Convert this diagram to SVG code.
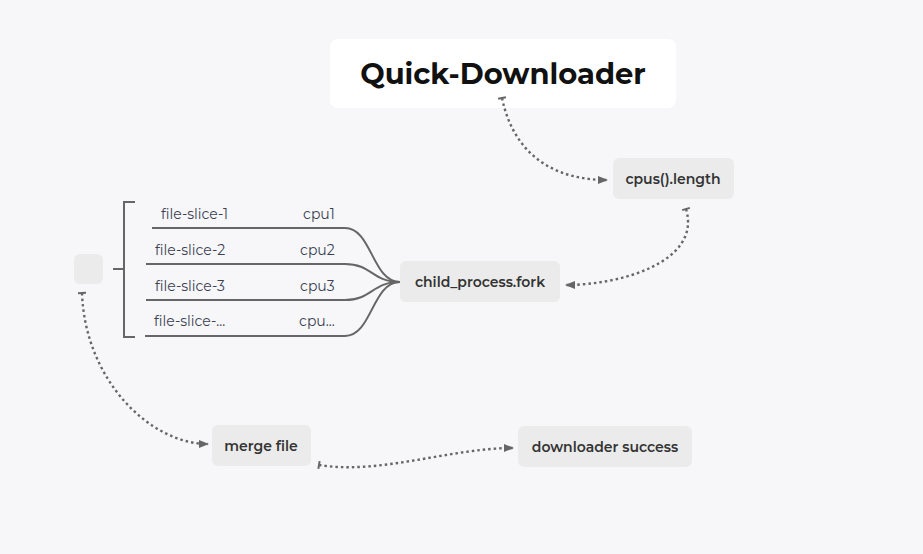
<svg xmlns="http://www.w3.org/2000/svg" width="923" height="554" viewBox="0 0 923 554">
<defs>
<marker id="arr" viewBox="0 0 10 10" refX="9" refY="5" markerWidth="10" markerHeight="10" markerUnits="userSpaceOnUse" orient="auto"><path d="M0,1 L10,5 L0,9 Z" fill="#666"/></marker>
<marker id="tick" viewBox="-5 -5 10 10" refX="0" refY="0" markerWidth="10" markerHeight="10" markerUnits="userSpaceOnUse" orient="auto"><path d="M0,-4 L0,4" stroke="#666" stroke-width="2"/></marker>
<style>
.box{fill:#ebebeb}
.lbl{font-family:Montserrat,"Open Sans","Liberation Sans",sans-serif;font-weight:600;font-size:14px;fill:#333;text-anchor:middle}
.sub{font-family:Montserrat,"Open Sans","Liberation Sans",sans-serif;font-size:14px;fill:#3a3f52}
.dot{fill:none;stroke:#666;stroke-width:2.4;stroke-dasharray:2.5 3;marker-end:url(#arr);marker-start:url(#tick)}
.br{fill:none;stroke:#666;stroke-width:2}
</style>
</defs>
<rect width="923" height="554" fill="#f7f7f9"/>
<g id="title"><rect x="330" y="39" width="346" height="69" rx="8" fill="#fff"/><text x="503" y="84" font-family="Montserrat,'Open Sans','Liberation Sans',sans-serif" font-weight="bold" font-size="29" fill="#111" text-anchor="middle">Quick-Downloader</text></g>
<g id="cpus"><rect class="box" x="613" y="158" width="121" height="41" rx="6"/><text class="lbl" x="673" y="184">cpus().length</text></g>
<g id="fork"><rect class="box" x="400" y="261" width="160" height="41" rx="6"/><text class="lbl" x="480" y="287">child_process.fork</text></g>
<g id="empty"><rect class="box" x="74" y="254" width="29" height="30" rx="6"/></g>
<g id="merge"><rect class="box" x="212" y="425" width="99" height="41" rx="6"/><text class="lbl" x="261" y="451">merge file</text></g>
<g id="success"><rect class="box" x="518" y="426" width="174" height="41" rx="6"/><text class="lbl" x="605" y="452">downloader success</text></g>
<g id="slices">
<text class="sub" x="161" y="219">file-slice-1</text><text class="sub" x="303" y="219">cpu1</text>
<text class="sub" x="155" y="255">file-slice-2</text><text class="sub" x="300" y="255">cpu2</text>
<text class="sub" x="155" y="291">file-slice-3</text><text class="sub" x="300" y="291">cpu3</text>
<text class="sub" x="154" y="326">file-slice-...</text><text class="sub" x="299" y="326">cpu...</text>
</g>
<g id="connectors">
<path class="dot" d="M502,98 C515,160 560,180 607,180"/>
<path class="dot" d="M686,209 C702,262 620,285 566,285"/>
<path class="dot" d="M82,293 C85,380 150,444 208,444"/>
<path class="dot" d="M319,465 C380,475 450,448 513,448"/>
<path class="br" d="M113,269 L124,269 M135,202 L124,202 L124,337 L135,337"/>
<path class="br" d="M152,228 L345,228 C372,228 372,282 400,282"/>
<path class="br" d="M146,264 L345,264 C372,264 372,282 400,282"/>
<path class="br" d="M146,300 L345,300 C372,300 372,282 400,282"/>
<path class="br" d="M145,336 L345,336 C372,336 372,282 400,282"/>
</g>
</svg>
